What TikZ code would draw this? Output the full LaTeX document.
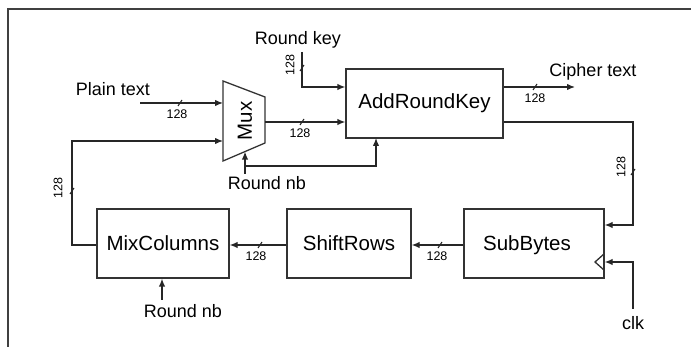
\documentclass[tikz,border=0pt]{standalone}
\usepackage{fontspec}
\setmainfont{Liberation Sans}
\usetikzlibrary{arrows.meta}
\tikzset{
  wire/.style={line width=1.3pt, draw=black!85},
  arr/.style={wire, -{Latex[length=8pt,width=6.5pt]}},
  blk/.style={draw=black!80, line width=1.3pt, inner sep=0pt},
  lbl/.style={font=\fontsize{18}{20}\selectfont, inner sep=0pt},
  bus/.style={font=\fontsize{12.5}{14}\selectfont, inner sep=0pt},
  bname/.style={font=\fontsize{20.5}{23}\selectfont, inner sep=0pt},
}
\newcommand{\htick}[1]{\draw[wire, line width=1pt] ($(#1)+(-2,3)$) -- ($(#1)+(2,-3)$);}
\usetikzlibrary{calc}
\begin{document}
\begin{tikzpicture}[x=1pt,y=-1pt]
\useasboundingbox (0,0) rectangle (691,347);
% frame
\draw[line width=2pt, draw=black!75] (8,347) -- (8,9) -- (691,9);

% blocks
\node[blk, minimum width=157pt, minimum height=69pt] (ark) at (424.5,103.5) {};
\node[bname] (arkt) at (ark.center) {AddRoundKey};
\node[blk, minimum width=140pt, minimum height=69pt] (sb) at (534,243.5) {};
\node[bname] (sbt) at (527,245) {SubBytes};
\node[blk, minimum width=124pt, minimum height=69pt] (sr) at (349,243.5) {};
\node[bname] (srt) at (sr.center) {ShiftRows};
\node[blk, minimum width=132pt, minimum height=69pt] (mc) at (163,243.5) {};
\node[bname] (mct) at (mc.center) {MixColumns};

% mux
\coordinate (mtl) at (223,81);
\coordinate (mtr) at (265,97);
\coordinate (mbr) at (265,143);
\coordinate (mbl) at (223,161);
\draw[blk] (mtl) -- (mtr) -- (mbr) -- (mbl) -- cycle;
\node[bname, rotate=90] (muxt) at (245,121) {Mux};
\coordinate (muxa) at (223,103);
\coordinate (muxb) at (223,141);
\coordinate (muxo) at (265,122);
\coordinate (muxs) at (245,151.6);

% labels
\node[lbl] (pt) at (113,89) {Plain text};
\node[lbl] (rk) at (298,40) {Round key};
\node[lbl] (ct) at (593,72) {Cipher text};
\node[lbl] (rn1) at (267,183) {Round nb};
\node[lbl] (rn2) at (183,311) {Round nb};
\node[lbl] (clk) at (633,323) {clk};

% plain text -> mux
\coordinate (pts) at (140,103);
\draw[arr] (pts) -- (muxa);
\htick{180,103}
\node[bus] (b1) at (177,114) {128};

% round key -> ARK
\coordinate (rks) at (302,52);
\draw[arr] (rks) |- (ark.west |- 0,87);
\htick{302,68}
\node[bus, rotate=90] (b2) at (290,65) {128};

% mux -> ARK
\draw[arr] (muxo) -- (ark.west |- muxo);
\htick{302,122}
\node[bus] (b3) at (300,133) {128};

% round nb -> mux and ARK
\coordinate (rn1s) at (245,174);
\coordinate (rnj) at (245,166);
\draw[arr] (rn1s) -- (muxs);
\draw[arr] (rnj) -| (376,138);

% ARK -> cipher text
\coordinate (cte) at (575,87);
\draw[arr] (ark.east |- cte) -- (cte);
\htick{535,87}
\node[bus] (b4) at (535,98) {128};

% ARK -> SubBytes
\draw[arr] (ark.east |- 0,122) -| (633,225) -- (sb.east |- 0,225);
\htick{633,172}
\node[bus, rotate=90] (b5) at (621,167) {128};

% clock
\draw[blk] (604,254) -- (595,262) -- (604,270);
\coordinate (clks) at (633,309);
\draw[arr] (clks) |- (sb.east |- 0,262);

% SubBytes -> ShiftRows
\draw[arr] (sb.west |- 0,245) -- (sr.east |- 0,245);
\htick{440,245}
\node[bus] (b6) at (437,256) {128};

% ShiftRows -> MixColumns
\draw[arr] (sr.west |- 0,245) -- (mc.east |- 0,245);
\htick{260,245}
\node[bus] (b7) at (256,256) {128};

% MixColumns -> mux
\draw[arr] (mc.west |- 0,245) -| (72,141) -- (muxb);
\htick{72,191}
\node[bus, rotate=90] (b8) at (58,188) {128};

% round nb -> MixColumns
\coordinate (rn2s) at (162,300);
\draw[arr] (rn2s) -- (mc.south -| rn2s);
\end{tikzpicture}
\end{document}
